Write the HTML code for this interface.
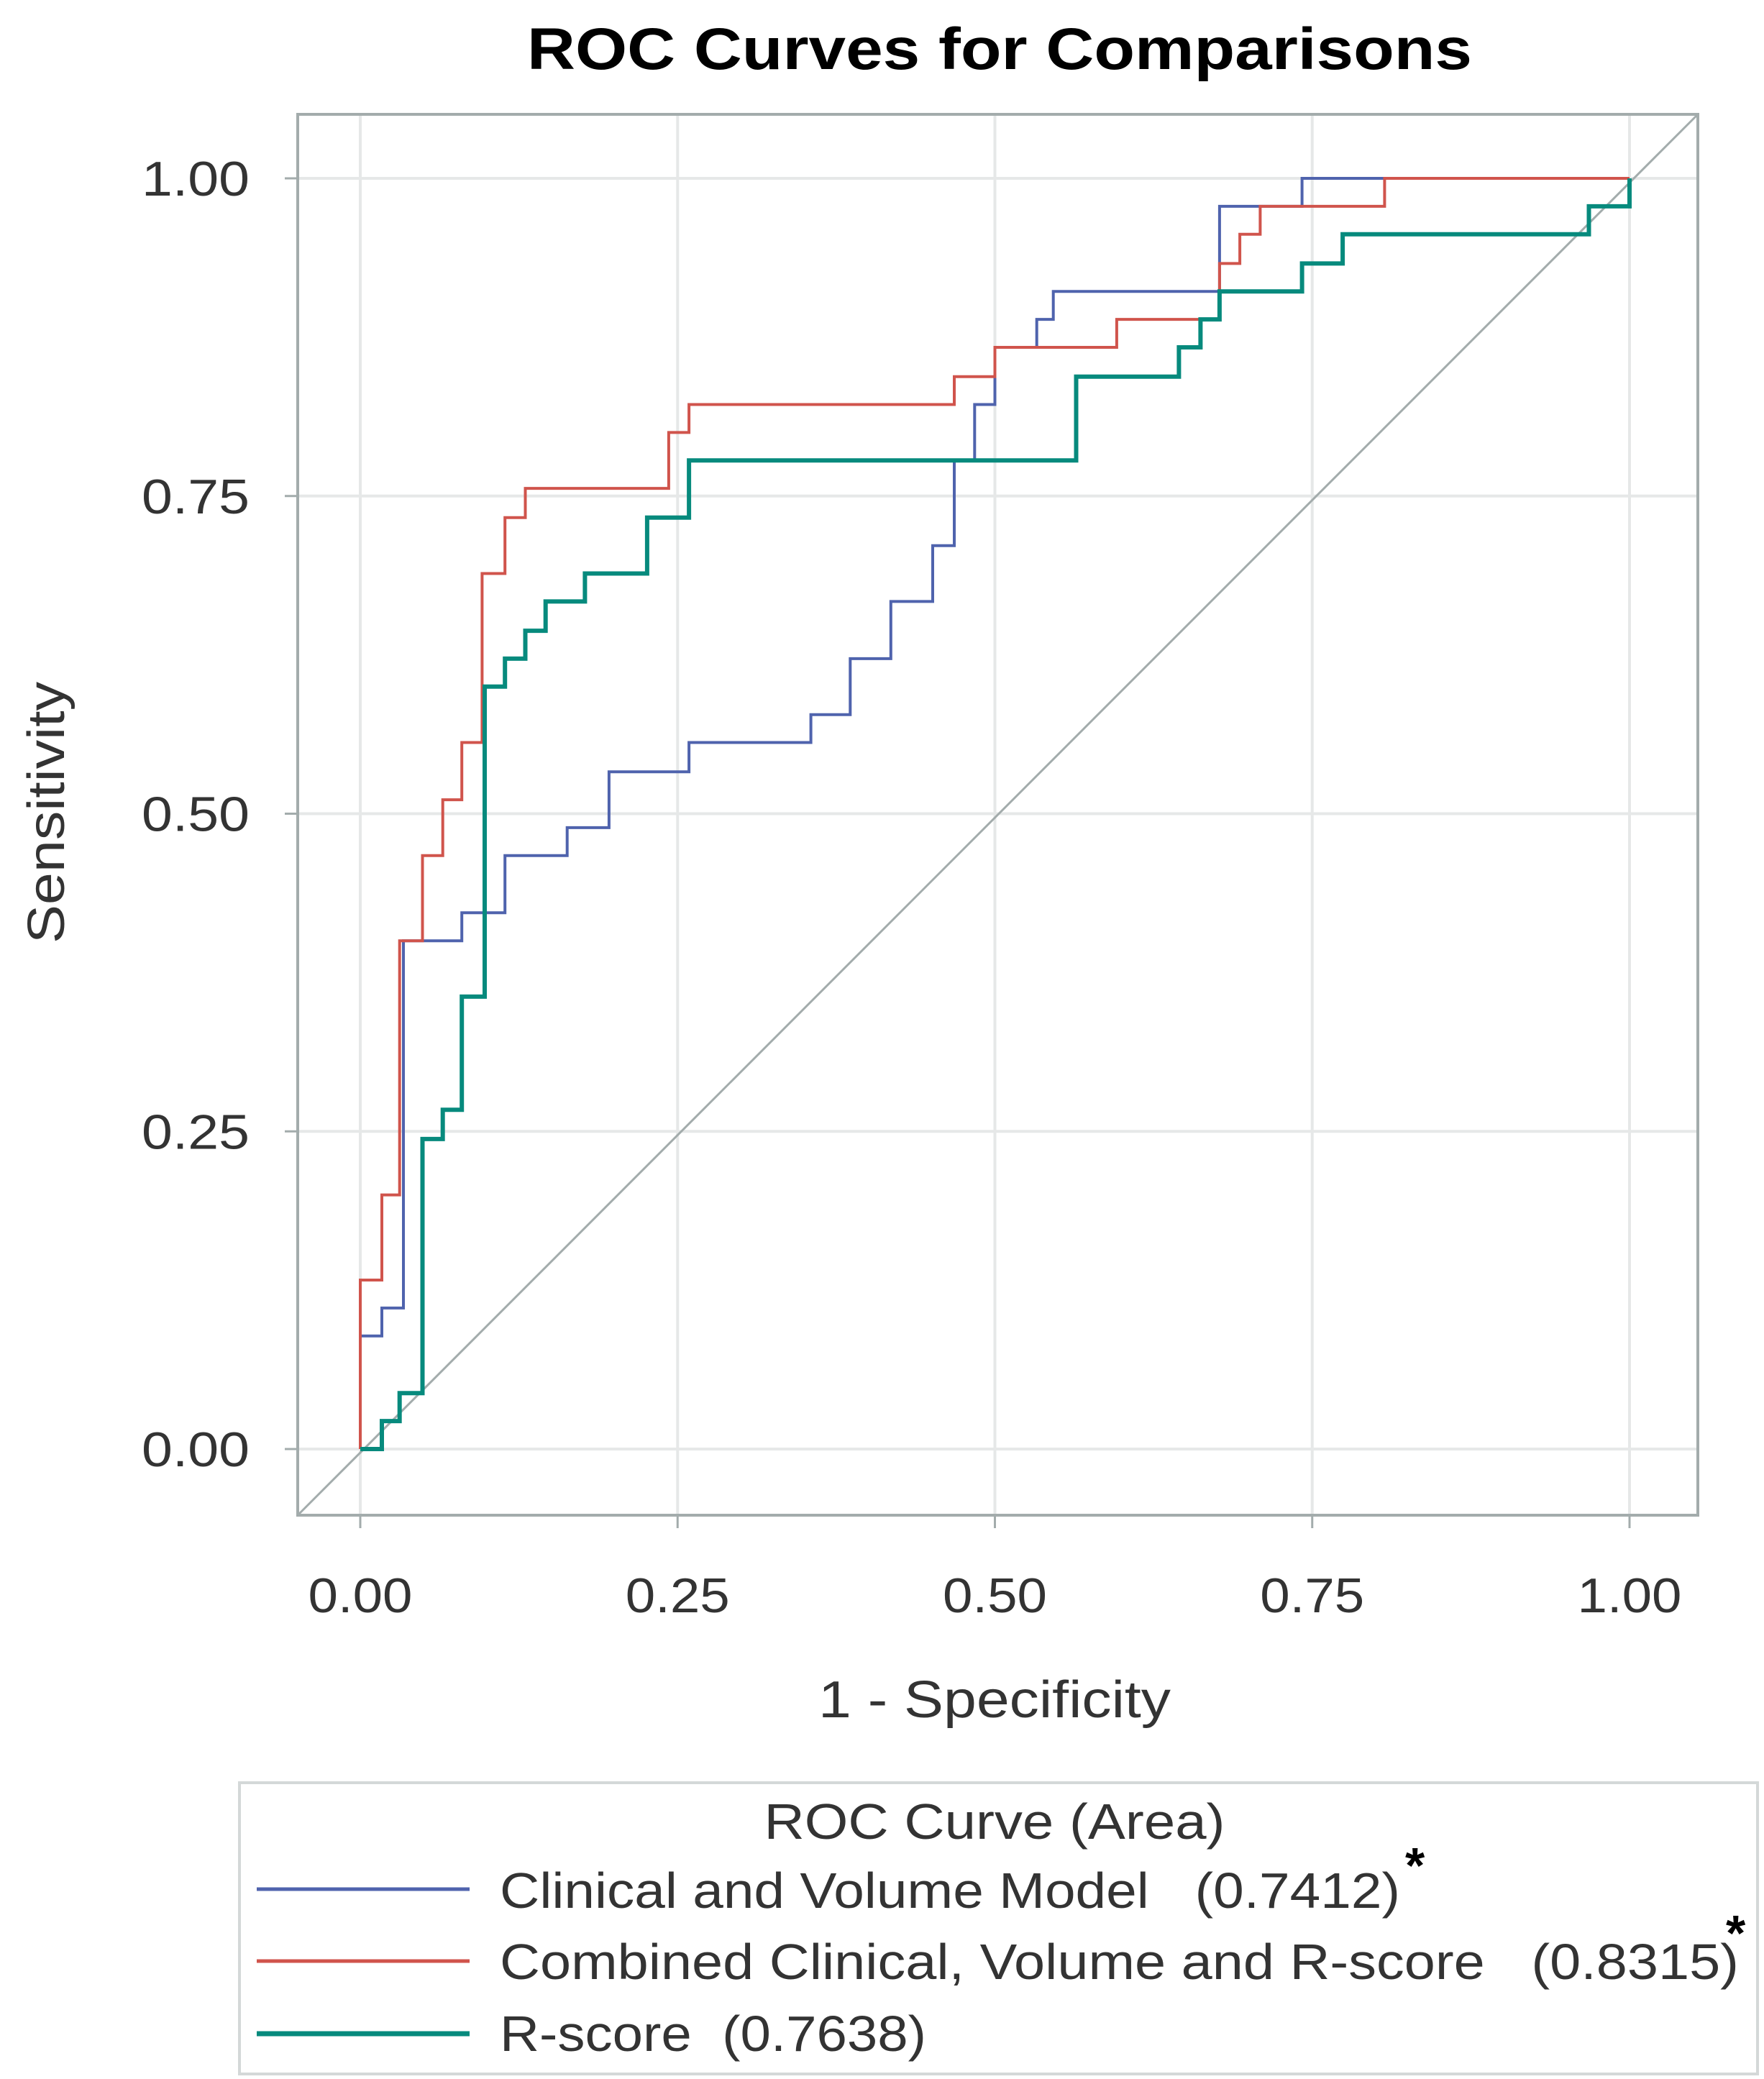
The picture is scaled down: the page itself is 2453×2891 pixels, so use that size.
<!DOCTYPE html>
<html><head><meta charset="utf-8"><style>
html,body{margin:0;padding:0;background:#fff;}
svg{display:block;}
text{font-family:"Liberation Sans",sans-serif;}
</style></head><body>
<svg id="chart" width="2453" height="2891" viewBox="0 0 2453 2891" xmlns="http://www.w3.org/2000/svg">
<rect width="2453" height="2891" fill="#fff"/>
<text x="1390" y="96" text-anchor="middle" font-size="82" font-weight="bold" fill="#000" textLength="1314" lengthAdjust="spacingAndGlyphs">ROC Curves for Comparisons</text>
<g id="grid"></g>
<line x1="414" y1="2107" x2="2361" y2="159" stroke="#a3acac" stroke-width="3"/>
<g id="series"></g>
<rect x="414" y="159" width="1947" height="1948" fill="none" stroke="#a3acac" stroke-width="4"/>
<g id="ticks"></g>
<text x="1383" y="2388" text-anchor="middle" font-size="72" fill="#333" textLength="490" lengthAdjust="spacingAndGlyphs">1 - Specificity</text>
<text transform="translate(89,1130) rotate(-90)" text-anchor="middle" font-size="72" fill="#333" textLength="364" lengthAdjust="spacingAndGlyphs">Sensitivity</text>
<g>
<rect x="333" y="2479" width="2111" height="405" fill="#fff" stroke="#d4d8d8" stroke-width="4"/>
<text x="1383" y="2557" text-anchor="middle" font-size="70" fill="#333" textLength="641" lengthAdjust="spacingAndGlyphs">ROC Curve (Area)</text>
<line x1="357" y1="2627" x2="653" y2="2627" stroke="#4f63ad" stroke-width="5"/>
<text x="695" y="2653" font-size="70" fill="#333" textLength="1252" lengthAdjust="spacingAndGlyphs" xml:space="preserve">Clinical and Volume Model   (0.7412)</text>
<text x="1954" y="2618" font-size="70" font-weight="bold" fill="#000">*</text>
<line x1="357" y1="2727" x2="653" y2="2727" stroke="#d0544c" stroke-width="5"/>
<text x="695" y="2752" font-size="70" fill="#333" textLength="1723" lengthAdjust="spacingAndGlyphs" xml:space="preserve">Combined Clinical, Volume and R-score   (0.8315)</text>
<text x="2400" y="2712" font-size="70" font-weight="bold" fill="#000">*</text>
<line x1="357" y1="2828" x2="653" y2="2828" stroke="#078a7d" stroke-width="7"/>
<text x="695" y="2852" font-size="70" fill="#333" textLength="593" lengthAdjust="spacingAndGlyphs" xml:space="preserve">R-score  (0.7638)</text>
</g>
</svg>
<script>
const tickValues = [0, 0.25, 0.5, 0.75, 1.0];
const tickLabels = ["0.00", "0.25", "0.50", "0.75", "1.00"];
const clinicalFpr = [0, 0, 0.017, 0.017, 0.034, 0.034, 0.08, 0.08, 0.114, 0.114, 0.163, 0.163, 0.196, 0.196, 0.259, 0.259, 0.355, 0.355, 0.386, 0.386, 0.418, 0.418, 0.451, 0.451, 0.468, 0.468, 0.484, 0.484, 0.5, 0.5, 0.533, 0.533, 0.546, 0.546, 0.677, 0.677, 0.742, 0.742, 1.0];
const clinicalTpr = [0, 0.089, 0.089, 0.111, 0.111, 0.4, 0.4, 0.422, 0.422, 0.467, 0.467, 0.489, 0.489, 0.533, 0.533, 0.556, 0.556, 0.578, 0.578, 0.622, 0.622, 0.667, 0.667, 0.711, 0.711, 0.778, 0.778, 0.822, 0.822, 0.867, 0.867, 0.889, 0.889, 0.911, 0.911, 0.978, 0.978, 1.0, 1.0];
const combinedFpr = [0, 0, 0.017, 0.017, 0.031, 0.031, 0.049, 0.049, 0.065, 0.065, 0.08, 0.08, 0.096, 0.096, 0.114, 0.114, 0.13, 0.13, 0.243, 0.243, 0.259, 0.259, 0.468, 0.468, 0.5, 0.5, 0.596, 0.596, 0.677, 0.677, 0.693, 0.693, 0.709, 0.709, 0.807, 0.807, 1.0];
const combinedTpr = [0, 0.133, 0.133, 0.2, 0.2, 0.4, 0.4, 0.467, 0.467, 0.511, 0.511, 0.556, 0.556, 0.689, 0.689, 0.733, 0.733, 0.756, 0.756, 0.8, 0.8, 0.822, 0.822, 0.844, 0.844, 0.867, 0.867, 0.889, 0.889, 0.933, 0.933, 0.956, 0.956, 0.978, 0.978, 1.0, 1.0];
const rscoreFpr = [0, 0.017, 0.017, 0.031, 0.031, 0.049, 0.049, 0.065, 0.065, 0.08, 0.08, 0.098, 0.098, 0.114, 0.114, 0.13, 0.13, 0.146, 0.146, 0.177, 0.177, 0.226, 0.226, 0.259, 0.259, 0.564, 0.564, 0.645, 0.645, 0.662, 0.662, 0.677, 0.677, 0.742, 0.742, 0.774, 0.774, 0.968, 0.968, 1.0, 1.0];
const rscoreTpr = [0, 0, 0.022, 0.022, 0.044, 0.044, 0.244, 0.244, 0.267, 0.267, 0.356, 0.356, 0.6, 0.6, 0.622, 0.622, 0.644, 0.644, 0.667, 0.667, 0.689, 0.689, 0.733, 0.733, 0.778, 0.778, 0.844, 0.844, 0.867, 0.867, 0.889, 0.889, 0.911, 0.911, 0.933, 0.933, 0.956, 0.956, 0.978, 0.978, 1.0];

const NS = "http://www.w3.org/2000/svg";
function xs(v){ return 501 + v * (2266 - 501); }
function ys(v){ return 2015 - v * (2015 - 248); }

const grid = document.getElementById('grid');
const ticks = document.getElementById('ticks');
tickValues.forEach((v, i) => {
  const gx = document.createElementNS(NS, 'line');
  gx.setAttribute('x1', xs(v)); gx.setAttribute('x2', xs(v));
  gx.setAttribute('y1', 159); gx.setAttribute('y2', 2107);
  gx.setAttribute('stroke', '#e6e8e8'); gx.setAttribute('stroke-width', 4);
  
  
  grid.appendChild(gx);
  const gy = document.createElementNS(NS, 'line');
  gy.setAttribute('y1', ys(v)); gy.setAttribute('y2', ys(v));
  gy.setAttribute('x1', 414); gy.setAttribute('x2', 2361);
  gy.setAttribute('stroke', '#e6e8e8'); gy.setAttribute('stroke-width', 4);
  
  
  grid.appendChild(gy);

  const tx = document.createElementNS(NS, 'line');
  tx.setAttribute('x1', xs(v)); tx.setAttribute('x2', xs(v));
  tx.setAttribute('y1', 2107); tx.setAttribute('y2', 2125);
  tx.setAttribute('stroke', '#a3acac'); tx.setAttribute('stroke-width', 3);
  
  
  ticks.appendChild(tx);
  const ty = document.createElementNS(NS, 'line');
  ty.setAttribute('y1', ys(v)); ty.setAttribute('y2', ys(v));
  ty.setAttribute('x1', 396); ty.setAttribute('x2', 414);
  ty.setAttribute('stroke', '#a3acac'); ty.setAttribute('stroke-width', 3);
  
  
  ticks.appendChild(ty);

  const lx = document.createElementNS(NS, 'text');
  lx.setAttribute('x', xs(v)); lx.setAttribute('y', 2242);
  lx.setAttribute('text-anchor', 'middle'); lx.setAttribute('font-size', 68);
  lx.setAttribute('fill', '#333'); lx.setAttribute('textLength', 145);
  lx.setAttribute('lengthAdjust', 'spacingAndGlyphs');
  
  
  lx.textContent = tickLabels[i];
  ticks.appendChild(lx);
  const ly = document.createElementNS(NS, 'text');
  ly.setAttribute('x', 347); ly.setAttribute('y', ys(v) + 24);
  ly.setAttribute('text-anchor', 'end'); ly.setAttribute('font-size', 68);
  ly.setAttribute('fill', '#333'); ly.setAttribute('textLength', 150);
  ly.setAttribute('lengthAdjust', 'spacingAndGlyphs');
  
  
  ly.textContent = tickLabels[i];
  ticks.appendChild(ly);
});

const series = document.getElementById('series');
function drawCurve(fpr, tpr, color, width, name){
  const pts = fpr.map((f, i) => xs(f).toFixed(1) + ',' + ys(tpr[i]).toFixed(1)).join(' ');
  const pl = document.createElementNS(NS, 'polyline');
  pl.setAttribute('points', pts);
  pl.setAttribute('fill', 'none');
  pl.setAttribute('stroke', color);
  pl.setAttribute('stroke-width', width);
  pl.setAttribute('stroke-linejoin', 'miter');
  
  
  series.appendChild(pl);
}
drawCurve(clinicalFpr, clinicalTpr, '#4f63ad', 4, 'clinical-volume-curve');
drawCurve(combinedFpr, combinedTpr, '#d0544c', 4, 'combined-curve');
drawCurve(rscoreFpr, rscoreTpr, '#078a7d', 6, 'rscore-curve');
</script>
</body></html>
